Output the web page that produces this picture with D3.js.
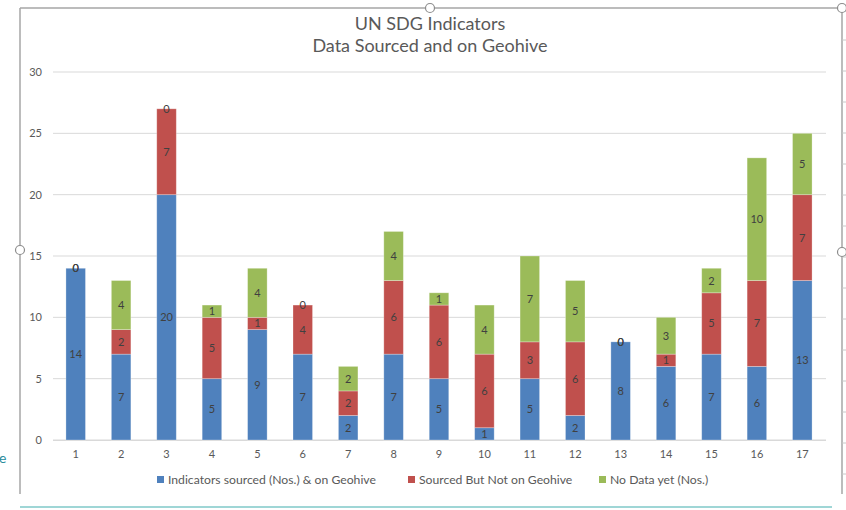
<!DOCTYPE html>
<html>
<head>
<meta charset="utf-8">
<script src="https://cdn.jsdelivr.net/npm/d3@7"></script>
<style>
  body { margin: 0; background: #fff; }
  text { font-family: Lato, "Open Sans", sans-serif; }
</style>
</head>
<body>
<div id="chart"></div>
<script>
var categories = ['1','2','3','4','5','6','7','8','9','10','11','12','13','14','15','16','17'];
var sourcedOnGeohive = [14, 7, 20, 5, 9, 7, 2, 7, 5, 1, 5, 2, 8, 6, 7, 6, 13];
var sourcedNotOnGeohive = [0, 2, 7, 5, 1, 4, 2, 6, 6, 6, 3, 6, 0, 1, 5, 7, 7];
var noDataYet = [0, 4, 0, 1, 4, 0, 2, 4, 1, 4, 7, 5, 0, 3, 2, 10, 5];
var seriesNames = ['Indicators sourced (Nos.) & on Geohive', 'Sourced But Not on Geohive', 'No Data yet (Nos.)'];
var yTicks = [0, 5, 10, 15, 20, 25, 30];

var width = 846, height = 510;
var colors = ['#4F81BD', '#C0504D', '#9BBB59'];

var svg = d3.select('#chart').append('svg')
    .attr('width', width)
    .attr('height', height);

// frame of the embedded chart
var frame = svg.append('g').attr('class', 'frame');
frame.append('line').attr('x1', 20).attr('y1', 8).attr('x2', 842).attr('y2', 8)
    .attr('stroke', '#a6a6a6').attr('stroke-width', 1.5);
frame.append('line').attr('x1', 20).attr('y1', 8).attr('x2', 20).attr('y2', 494)
    .attr('stroke', '#a6a6a6').attr('stroke-width', 1.5);
frame.append('line').attr('x1', 842).attr('y1', 8).attr('x2', 842).attr('y2', 494)
    .attr('stroke', '#a6a6a6').attr('stroke-width', 1.5);
d3.range(40, 500, 31).forEach(function(y) {
    frame.append('line').attr('x1', 842).attr('x2', 846).attr('y1', y).attr('y2', y)
        .attr('stroke', '#c8c8c8');
});
frame.append('line').attr('x1', 20).attr('y1', 507).attr('x2', 832).attr('y2', 507)
    .attr('stroke', '#7fc8c8').attr('stroke-width', 1.5);
[[430, 8], [842, 8], [20, 250], [842, 252]].forEach(function(p) {
    frame.append('circle').attr('cx', p[0]).attr('cy', p[1]).attr('r', 4.5)
        .attr('fill', '#fff').attr('stroke', '#8c8c8c').attr('stroke-width', 1.2);
});
svg.append('text').attr('x', -1).attr('y', 463).attr('fill', '#2a8c9c')
    .style('font-size', '14px').text('e');

var plotLeft = 53, plotRight = 826;
var x = d3.scaleBand().domain(categories).range([plotLeft, 825]).paddingInner(0.57).paddingOuter(0.285);
var y = d3.scaleLinear().domain([0, 30]).range([440, 72]);

// title
svg.append('text').attr('x', 430).attr('y', 30).attr('text-anchor', 'middle')
    .attr('fill', '#595959').style('font-size', '18px').text('UN SDG Indicators');
svg.append('text').attr('x', 430).attr('y', 52).attr('text-anchor', 'middle')
    .attr('fill', '#595959').style('font-size', '18px').text('Data Sourced and on Geohive');

// gridlines
svg.append('g').selectAll('line').data(yTicks).enter().append('line')
    .attr('x1', plotLeft).attr('x2', plotRight)
    .attr('y1', function(d) { return y(d); }).attr('y2', function(d) { return y(d); })
    .attr('stroke', '#d9d9d9').attr('stroke-width', 1);

// y axis
var yAxis = svg.append('g').attr('transform', 'translate(42,0)')
    .call(d3.axisLeft(y).tickValues(yTicks).tickSize(0).tickPadding(0));
yAxis.select('.domain').remove();
yAxis.selectAll('text').attr('fill', '#595959').style('font-size', '11px');

// x axis
var xAxis = svg.append('g').attr('transform', 'translate(0,440)')
    .call(d3.axisBottom(x).tickSize(0).tickPadding(10));
xAxis.select('.domain').attr('stroke', '#d9d9d9').attr('d', 'M' + plotLeft + ',0.5H' + plotRight);
xAxis.selectAll('text').attr('fill', '#595959').style('font-size', '11px');

// stacked bars
var rows = categories.map(function(c, i) {
    return {cat: c, a: sourcedOnGeohive[i], b: sourcedNotOnGeohive[i], c: noDataYet[i]};
});
var stack = d3.stack().keys(['a', 'b', 'c'])(rows);

var layer = svg.append('g').selectAll('g.layer').data(stack).enter().append('g')
    .attr('class', 'layer')
    .attr('fill', function(d, i) { return colors[i]; });

layer.selectAll('rect').data(function(d) { return d; }).enter().append('rect')
    .attr('x', function(d) { return x(d.data.cat); })
    .attr('width', x.bandwidth())
    .attr('y', function(d) { return y(d[1]); })
    .attr('height', function(d) { return y(d[0]) - y(d[1]); })
    .attr('stroke', 'rgba(255,255,255,0.35)').attr('stroke-width', 0.8);

// data labels
var labels = svg.append('g');
stack.forEach(function(s) {
    labels.selectAll(null).data(s).enter().append('text')
        .attr('x', function(d) { return x(d.data.cat) + x.bandwidth() / 2; })
        .attr('y', function(d) { return y((d[0] + d[1]) / 2) + 4; })
        .attr('text-anchor', 'middle')
        .attr('fill', '#404040')
        .style('font-size', '11px')
        .text(function(d) { return d[1] - d[0]; });
});

// legend
var legendX = [157, 408, 599];
var legend = svg.append('g').selectAll('g').data(seriesNames).enter().append('g')
    .attr('transform', function(d, i) { return 'translate(' + legendX[i] + ',480)'; });
legend.append('rect').attr('x', 0).attr('y', -4).attr('width', 7).attr('height', 7)
    .attr('fill', function(d, i) { return colors[i]; });
legend.append('text').attr('x', 11).attr('y', 4).attr('fill', '#595959')
    .style('font-size', '12.2px').text(function(d) { return d; });
</script>
</body>
</html>
